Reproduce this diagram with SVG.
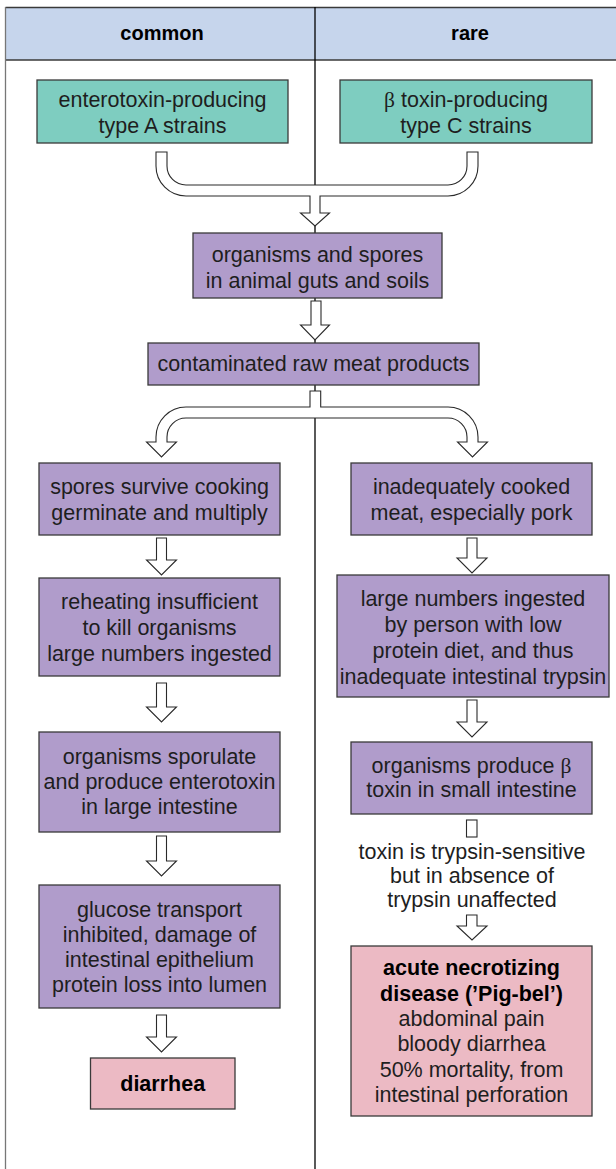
<svg xmlns="http://www.w3.org/2000/svg" width="616" height="1169" viewBox="0 0 616 1169">
<style>
  text { font-family: "Liberation Sans", Arial, sans-serif; font-size: 21.5px; fill: #1e1e1e; text-anchor: middle; }
  .b { font-weight: bold; fill: #000; }
  .hd { font-weight: bold; font-size: 20px; fill: #000; }
  .beta { font-family: "Liberation Serif", "Times New Roman", serif; }
  .teal { fill: #7ecdc0; stroke: #3a3a3a; stroke-width: 1.3; }
  .purp { fill: #b09ccb; stroke: #3a3a3a; stroke-width: 1.3; }
  .pink { fill: #ecbac4; stroke: #3a3a3a; stroke-width: 1.3; }
  .arr { fill: #fff; stroke: #2a2a2a; stroke-width: 1.1; stroke-linejoin: miter; }
</style>
<rect width="616" height="1169" fill="#fff"/>
<g id="table">
  <rect x="5.5" y="7.5" width="620" height="52.5" fill="#c6d5ec"/>
  <line x1="5.5" y1="7.5" x2="616" y2="7.5" stroke="#3a3a3a" stroke-width="1.3"/>
  <line x1="5.5" y1="60" x2="616" y2="60" stroke="#3a3a3a" stroke-width="1.3"/>
  <line x1="5.5" y1="7" x2="5.5" y2="1169" stroke="#777" stroke-width="1.3"/>
  <line x1="315" y1="7" x2="315" y2="1169" stroke="#000" stroke-width="1.3"/>
  <text class="hd" x="162" y="40">common</text>
  <text class="hd" x="470" y="40">rare</text>
</g>
<g id="connectors">
  <path class="arr" d="M156,152 V166 A30,30 0 0 0 186,196 H310 V213 H300.5 L315,226 L329.5,213 H320 V196 H448 A30,30 0 0 0 478,166 V152 H467 V166 A19,19 0 0 1 448,185 H186 A19,19 0 0 1 167,166 V152 Z"/>
  <path class="arr" d="M311,301 V325 H300.5 L315,340 L329.5,325 H321 V301 Z"/>
  <path class="arr" d="M310,391 V407 H186 A30,30 0 0 0 156,437 V442 H146.5 L161.5,457 L176.5,442 H167 V437 A19,19 0 0 1 186,418 H448 A19,19 0 0 1 467,437 V442 H457.5 L472.5,457 L487.5,442 H478 V437 A30,30 0 0 0 448,407 H320.7 V391 Z"/>
  <path class="arr" d="M156.5,538 V560 H146.5 L161.5,575 L176.5,560 H166.5 V538 Z"/>
  <path class="arr" d="M156.5,683 V707 H146.5 L161.5,722 L176.5,707 H166.5 V683 Z"/>
  <path class="arr" d="M156.5,836 V861 H146.5 L161.5,876 L176.5,861 H166.5 V836 Z"/>
  <path class="arr" d="M156.5,1015 V1037 H146.5 L161.5,1052 L176.5,1037 H166.5 V1015 Z"/>
  <path class="arr" d="M467,538 V558 H457 L472,573 L487,558 H477 V538 Z"/>
  <path class="arr" d="M467,700 V722 H457 L472,737 L487,722 H477 V700 Z"/>
  <rect class="arr" x="466.5" y="820" width="10.5" height="17"/>
  <path class="arr" d="M466.5,915 V926 H457 L472,940 L487,926 H477 V915 Z"/>
</g>
<g id="n-typeA">
  <rect class="teal" x="37" y="80" width="251" height="63"/>
  <text x="162.5" y="107">enterotoxin-producing</text>
  <text x="162.5" y="133">type A strains</text>
</g>
<g id="n-typeC">
  <rect class="teal" x="340" y="80" width="252" height="63"/>
  <text x="466" y="107"><tspan class="beta">β</tspan> toxin-producing</text>
  <text x="466" y="133">type C strains</text>
</g>
<g id="n-organisms">
  <rect class="purp" x="193" y="233" width="249" height="65"/>
  <text x="317.5" y="262">organisms and spores</text>
  <text x="317.5" y="288">in animal guts and soils</text>
</g>
<g id="n-meat">
  <rect class="purp" x="148" y="343" width="331" height="42"/>
  <text x="313.5" y="371">contaminated raw meat products</text>
</g>
<g id="n-spores">
  <rect class="purp" x="39" y="463" width="241" height="72"/>
  <text x="159.5" y="494">spores survive cooking</text>
  <text x="159.5" y="520">germinate and multiply</text>
</g>
<g id="n-reheat">
  <rect class="purp" x="39" y="578" width="241" height="98"/>
  <text x="159.5" y="609">reheating insufficient</text>
  <text x="159.5" y="635">to kill organisms</text>
  <text x="159.5" y="661">large numbers ingested</text>
</g>
<g id="n-sporulate">
  <rect class="purp" x="39" y="732" width="241" height="100"/>
  <text x="159.5" y="764">organisms sporulate</text>
  <text x="159.5" y="789">and produce enterotoxin</text>
  <text x="159.5" y="814">in large intestine</text>
</g>
<g id="n-glucose">
  <rect class="purp" x="39" y="885" width="241" height="123"/>
  <text x="159.5" y="917">glucose transport</text>
  <text x="159.5" y="942">inhibited, damage of</text>
  <text x="159.5" y="967">intestinal epithelium</text>
  <text x="159.5" y="992">protein loss into lumen</text>
</g>
<g id="n-diarrhea">
  <rect class="pink" x="90.5" y="1058" width="144.5" height="51"/>
  <text class="b" x="162.7" y="1091">diarrhea</text>
</g>
<g id="n-cooked">
  <rect class="purp" x="351" y="463" width="241" height="72"/>
  <text x="471.5" y="494">inadequately cooked</text>
  <text x="471.5" y="520">meat, especially pork</text>
</g>
<g id="n-ingested">
  <rect class="purp" x="337" y="575" width="272" height="122"/>
  <text x="473" y="606">large numbers ingested</text>
  <text x="473" y="632">by person with low</text>
  <text x="473" y="658">protein diet, and thus</text>
  <text x="473" y="684">inadequate intestinal trypsin</text>
</g>
<g id="n-betatoxin">
  <rect class="purp" x="351" y="742" width="241" height="72"/>
  <text x="471.5" y="773">organisms produce <tspan class="beta">β</tspan></text>
  <text x="471.5" y="797">toxin in small intestine</text>
</g>
<g id="n-trypsin-note">
  <text x="472" y="859">toxin is trypsin-sensitive</text>
  <text x="472" y="883">but in absence of</text>
  <text x="472" y="907">trypsin unaffected</text>
</g>
<g id="n-pigbel">
  <rect class="pink" x="351" y="946" width="241" height="170"/>
  <text class="b" x="471.5" y="975">acute necrotizing</text>
  <text class="b" x="471.5" y="1000.5">disease (’Pig-bel’)</text>
  <text x="471.5" y="1026">abdominal pain</text>
  <text x="471.5" y="1051">bloody diarrhea</text>
  <text x="471.5" y="1076.5">50% mortality, from</text>
  <text x="471.5" y="1102">intestinal perforation</text>
</g>
</svg>
